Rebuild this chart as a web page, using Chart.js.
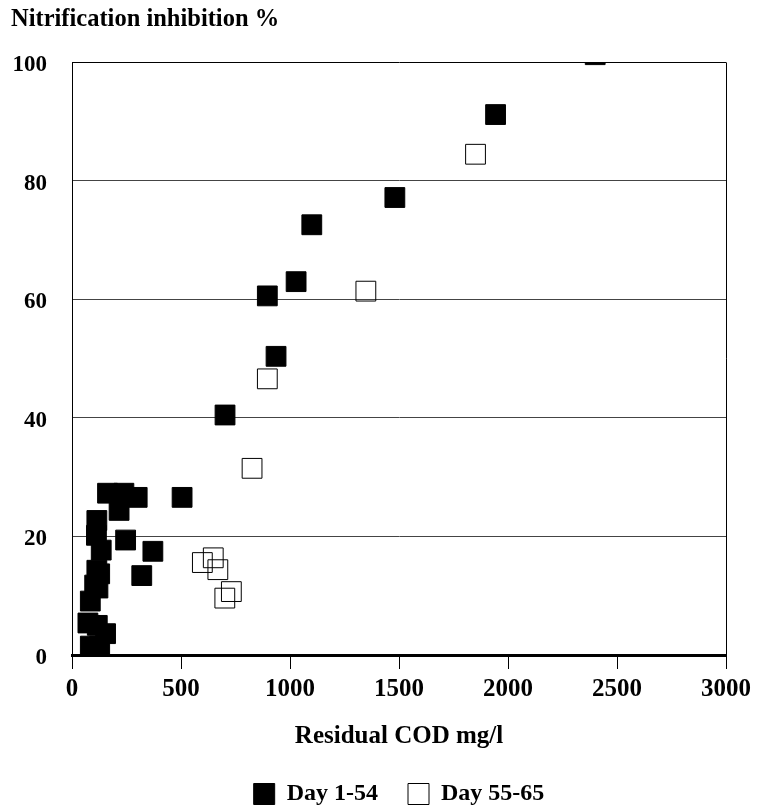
<!DOCTYPE html>
<html>
<head>
<meta charset="utf-8">
<script src="https://cdn.jsdelivr.net/npm/chart.js@4"></script>
<style>
  body { margin: 0; background: #fff; }
  #wrap { width: 757px; height: 809px; }
</style>
</head>
<body>
<div id="wrap"><canvas id="chart" width="757" height="809"></canvas></div>
<script>
// Day 1-54 (filled squares)
const day1to54Cod = [2400, 1943, 1481, 1100, 1028, 896, 936, 702, 505,
    163, 238, 299, 216, 246, 371, 320,
    114, 112, 134, 127, 114, 104, 119, 84, 73, 116, 154, 84, 127];
const day1to54Inhibition = [101.3, 91.2, 77.2, 72.6, 63.0, 60.6, 50.4, 40.5, 26.6,
    27.3, 27.3, 26.6, 24.4, 19.4, 17.5, 13.4,
    22.7, 20.2, 17.7, 13.7, 14.3, 11.8, 11.3, 9.1, 5.4, 5.0, 3.6, 1.5, 1.5];

// Day 55-65 (open squares)
const day55to65Cod = [598, 648, 669, 731, 701, 826, 896, 1348, 1851];
const day55to65Inhibition = [15.6, 16.4, 14.4, 10.7, 9.6, 31.5, 46.6, 61.4, 84.5];

const seriesLabels = ['Day 1-54', 'Day 55-65'];
const xTicks = [0, 500, 1000, 1500, 2000, 2500, 3000];
const yTicks = [0, 20, 40, 60, 80, 100];

const toPoints = (xs, ys) => xs.map((x, i) => ({ x: x, y: ys[i] }));

const serif = "'Liberation Serif', 'Times New Roman', serif";
const bold = (size) => ({ family: serif, size: size, weight: 'bold' });

new Chart(document.getElementById('chart'), {
    type: 'scatter',
    data: {
        datasets: [{
            label: seriesLabels[0],
            data: toPoints(day1to54Cod, day1to54Inhibition),
            pointStyle: 'rect',
            pointRadius: 14,
            pointHoverRadius: 14,
            backgroundColor: '#000',
            borderColor: '#000',
            borderWidth: 1,
            clip: { top: 0, left: 12, right: 12, bottom: 0 }
        }, {
            label: seriesLabels[1],
            data: toPoints(day55to65Cod, day55to65Inhibition),
            pointStyle: 'rect',
            pointRadius: 14,
            pointHoverRadius: 14,
            backgroundColor: 'rgba(0,0,0,0)',
            borderColor: '#000',
            borderWidth: 1,
            clip: { top: 0, left: 12, right: 12, bottom: 0 }
        }]
    },
    options: {
        responsive: false,
        animation: false,
        layout: { padding: { left: 11, right: 29, top: 0, bottom: -7 } },
        plugins: {
            tooltip: { enabled: false },
            title: {
                display: true,
                text: 'Nitrification inhibition %',
                align: 'start',
                color: '#000',
                font: bold(24.5),
                padding: { top: 5, bottom: 28 }
            },
            legend: {
                position: 'bottom',
                fullSize: false,
                labels: {
                    color: '#000',
                    font: bold(24),
                    boxWidth: 21,
                    boxHeight: 21,
                    padding: 30
                }
            }
        },
        scales: {
            x: {
                type: 'linear',
                min: 0,
                max: 3000,
                afterBuildTicks: (axis) => { axis.ticks = xTicks.map(v => ({ value: v })); },
                ticks: {
                    color: '#000',
                    font: bold(25),
                    padding: 6,
                    maxRotation: 0,
                    callback: (v) => String(v)
                },
                grid: {
                    drawOnChartArea: true,
                    color: (c) => (c.tick && c.tick.value === 3000 ? '#000' : 'rgba(0,0,0,0)'),
                    tickColor: '#000',
                    tickLength: 14,
                    lineWidth: 1
                },
                border: { display: true, color: '#000', width: 3 },
                title: {
                    display: true,
                    text: 'Residual COD mg/l',
                    color: '#000',
                    font: bold(25),
                    padding: { top: 11, bottom: 0 }
                }
            },
            y: {
                type: 'linear',
                min: 0,
                max: 100,
                afterBuildTicks: (axis) => { axis.ticks = yTicks.map(v => ({ value: v })); },
                afterFit: (axis) => { axis.width = 61; },
                ticks: { color: '#000', font: bold(23), padding: 25, labelOffset: 3 },
                grid: {
                    drawTicks: false,
                    color: (c) => {
                        if (!c.tick) return 'rgba(0,0,0,0)';
                        if (c.tick.value === 100) return '#000';
                        if (c.tick.value === 0) return 'rgba(0,0,0,0)';
                        return '#444';
                    },
                    lineWidth: 1
                },
                border: { display: true, color: '#000', width: 1 }
            }
        }
    }
});
</script>
</body>
</html>
